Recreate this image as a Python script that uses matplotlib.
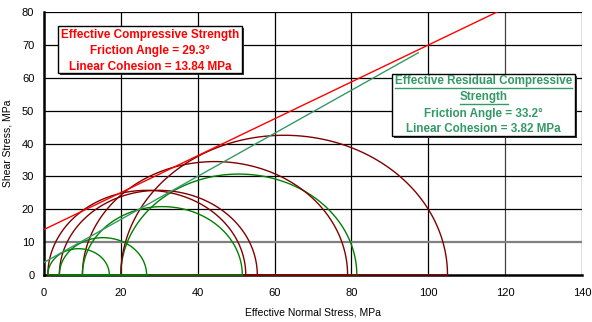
import numpy as np
import matplotlib
matplotlib.use("Agg")
import matplotlib.pyplot as plt
from matplotlib.patches import Rectangle

plt.rcParams['font.family'] = ['Liberation Sans', 'DejaVu Sans']

# Mohr circles: confining (sigma3) and failure (sigma1) stresses, MPa
peak_s3 = [1.0, 4.0, 10.0, 20.0]
peak_s1 = [52.5, 55.5, 79.0, 105.0]
resid_s3 = [1.0, 4.0, 10.0, 20.0]
resid_s1 = [17.0, 26.7, 51.6, 81.4]

# failure envelopes (end points)
peak_env_x = [0.0, 117.9]
peak_env_y = [13.84, 80.0]
resid_env_x = [0.0, 97.4]
resid_env_y = [3.82, 67.6]

peak_text = ["Effective Compressive Strength",
             "Friction Angle = 29.3\u00b0",
             "Linear Cohesion = 13.84 MPa"]
resid_text = ["Effective Residual Compressive",
              "Strength",
              "Friction Angle = 33.2\u00b0",
              "Linear Cohesion = 3.82 MPa"]

W, H = 592, 322
fig = plt.figure(figsize=(W / 100, H / 100), dpi=100)
ax = fig.add_axes([44 / W, 1 - 275 / H, (582 - 44) / W, (275 - 12) / H])

maroon = "#800000"
green = "#008000"
sea = "#339966"


def mohr(s3, s1, color, z):
    c = (s1 + s3) / 2
    r = (s1 - s3) / 2
    t = np.linspace(0, np.pi, 120)
    x = np.r_[c + r * np.cos(t), s3, s1]
    y = np.r_[r * np.sin(t), 0, 0]
    ax.plot(x, y, color=color, lw=1.0, zorder=z, clip_on=False)


# draw order so the diameters overlap like the original
mohr(resid_s3[3], resid_s1[3], green, 3)
for a, b in zip(peak_s3, peak_s1):
    mohr(a, b, maroon, 4)
for a, b in zip(resid_s3[:3], resid_s1[:3]):
    mohr(a, b, green, 5)

ax.plot(peak_env_x, peak_env_y, color="#ff0000", lw=1.0, zorder=6)
ax.plot(resid_env_x, resid_env_y, color=sea, lw=1.0, zorder=6)

ax.set_xlim(0, 140)
ax.set_ylim(0, 80)
ax.set_xticks(np.arange(0, 141, 20))
ax.set_yticks(np.arange(0, 81, 10))
ax.tick_params(length=0, labelsize=8, colors="#000000")
ax.tick_params(axis="x", pad=9)
ax.tick_params(axis="y", pad=7)
for x in range(20, 141, 20):
    ax.axvline(x, color="#404040" if x == 120 else "black", lw=0.9, zorder=1)
for y in range(10, 81, 10):
    if y == 10:
        ax.axhline(y, color="#808080", lw=1.6, zorder=1)
    else:
        ax.axhline(y, color="black", lw=0.9, zorder=1)
for s in ["top", "right"]:
    ax.spines[s].set_visible(False)
for s in ["left", "bottom"]:
    ax.spines[s].set_linewidth(1.8)
    ax.spines[s].set_zorder(2)
ax.set_xlabel("Effective Normal Stress, MPa", fontsize=7.5, labelpad=7)
ax.set_ylabel("Shear Stress, MPa", fontsize=7.5, labelpad=7)


def box(x0, y0, x1, y1):
    # pixel coords measured from top-left
    fig.patches.append(Rectangle(((x0 + 2) / W, 1 - (y1 + 2) / H), (x1 - x0) / W, (y1 - y0) / H,
                                 transform=fig.transFigure, facecolor="#333333",
                                 edgecolor="none", zorder=10))
    fig.patches.append(Rectangle((x0 / W, 1 - y1 / H), (x1 - x0) / W, (y1 - y0) / H,
                                 transform=fig.transFigure, facecolor="white",
                                 edgecolor="black", lw=1.0, zorder=11))


box(58, 26, 242, 73)
for s, yp in zip(peak_text, [35, 51, 66.5]):
    fig.text(150 / W, 1 - yp / H, s, color="#ff0000", fontsize=8.5, fontweight="bold",
             ha="center", va="center", zorder=12)

box(392, 74, 575, 136)
resid_objs = []
for s, yp in zip(resid_text, [81.5, 97, 113.5, 128.5]):
    t = fig.text(483.5 / W, 1 - yp / H, s, color=sea, fontsize=8.4, fontweight="bold",
                 ha="center", va="center", zorder=12)
    resid_objs.append(t)

# underline the residual title
fig.canvas.draw()
rend = fig.canvas.get_renderer()
for t in resid_objs[:2]:
    bb = t.get_window_extent(rend)
    yy = bb.y0 - 0.5
    fig.add_artist(plt.Line2D([bb.x0 / W, bb.x1 / W], [yy / H, yy / H],
                              transform=fig.transFigure, color=sea, lw=1.0, zorder=12))

fig.savefig("out.png", dpi=100)
